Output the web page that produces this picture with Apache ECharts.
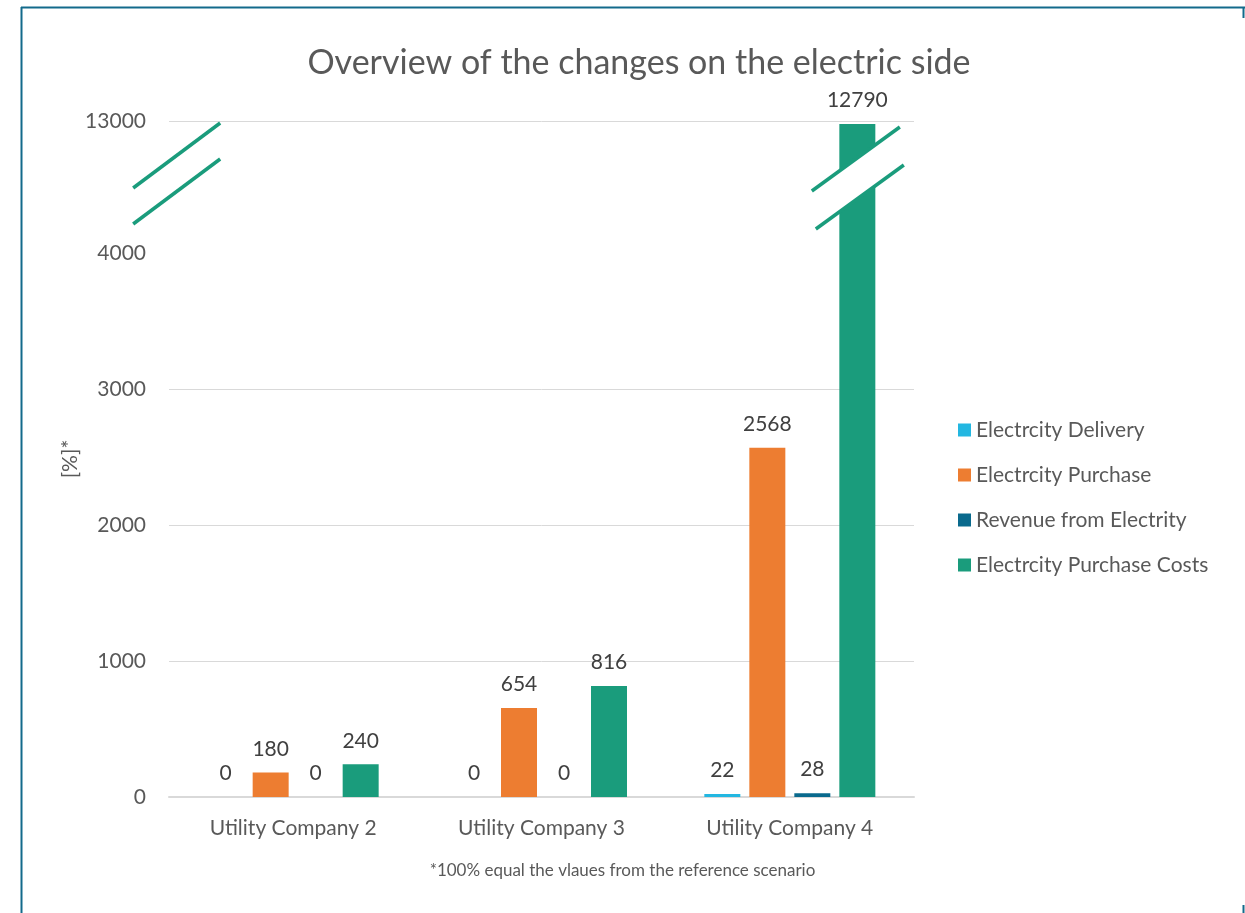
<!DOCTYPE html>
<html>
<head>
<meta charset="utf-8">
<script src="https://cdn.jsdelivr.net/npm/echarts@6/dist/echarts.min.js"></script>
<style>
  html, body { margin: 0; padding: 0; background: #fff; }
  #chart { width: 1245px; height: 913px; }
</style>
</head>
<body>
<div id="chart"></div>
<script>
// Categories and series values (% of the reference scenario)
const categories = ['Utility Company 2', 'Utility Company 3', 'Utility Company 4'];
const seriesNames = ['Electrcity Delivery', 'Electrcity Purchase', 'Revenue from Electrity', 'Electrcity Purchase Costs'];
const electricityDelivery = [0, 0, 22];
const electricityPurchase = [180, 654, 2568];
const revenueFromElectricity = [0, 0, 28];
const purchaseCosts = [240, 816, 12790];
const seriesColors = ['#23b7e1', '#ed7d31', '#0a6a8d', '#1a9c7c'];

// Broken value axis: 0..4000 linear, then a compressed jump to 13000
const axisBreakStart = 4000;
const axisBreakEnd = 13000;
const axisMax = 13000;

const FONT = 'Lato';
const TEXT = '#595959';
const GRID = { left: 169, right: 331, top: 121, bottom: 116 };

const chart = echarts.init(document.getElementById('chart'));

const values = [electricityDelivery, electricityPurchase, revenueFromElectricity, purchaseCosts];

const option = {
  backgroundColor: '#fff',
  animation: false,
  textStyle: { fontFamily: FONT },
  title: {
    text: 'Overview of the changes on the electric side',
    left: 634, top: 41, textAlign: 'center',
    textStyle: { fontFamily: FONT, fontSize: 34, fontWeight: 'normal', color: TEXT }
  },
  legend: {
    orient: 'vertical',
    left: 953, top: 413,
    itemWidth: 13, itemHeight: 13, itemGap: 21,
    icon: 'rect',
    textStyle: { fontFamily: FONT, fontSize: 21, color: TEXT, lineHeight: 24 },
    data: seriesNames
  },
  grid: GRID,
  xAxis: {
    type: 'category',
    data: categories,
    axisLine: { lineStyle: { color: '#d9d9d9', width: 2 } },
    axisTick: { show: false },
    axisLabel: { fontFamily: FONT, fontSize: 21, color: TEXT, margin: 21 }
  },
  yAxis: {
    type: 'value',
    min: 0, max: axisMax, interval: 1000,
    breaks: [{ start: axisBreakStart, end: axisBreakEnd, gap: 970 }],
    breakArea: { show: false },
    name: '[%]*',
    nameLocation: 'middle',
    nameGap: 88,
    nameMoveOverlap: false,
    nameRotate: 90,
    nameTextStyle: { fontFamily: FONT, fontSize: 21, color: TEXT },
    axisLine: { show: false },
    axisTick: { show: false },
    axisLabel: {
      fontFamily: FONT, fontSize: 21, color: TEXT, margin: 23,
      formatter: (v) => String(v)
    },
    splitLine: { lineStyle: { color: '#d9d9d9', width: 1 } }
  },
  series: seriesNames.map((name, i) => ({
    name,
    type: 'bar',
    data: values[i],
    barWidth: 36,
    barGap: '25%',
    itemStyle: { color: seriesColors[i] },
    label: {
      show: true, position: 'top', distance: 13,
      fontFamily: FONT, fontSize: 21, color: '#404040'
    }
  })),
  graphic: []
};

chart.setOption(option);

// Break marks: white band bounded by two green diagonals, on the value axis and across the tall bar
const markColor = '#1a9c7c';
function breakMark(x1, y1, x2, y2, dy, dx2) {
  return [
    {
      type: 'polygon', z: 100,
      shape: { points: [[x1, y1], [x2, y2], [x2 + dx2, y2 + dy], [x1 + dx2, y1 + dy]] },
      style: { fill: '#fff' }
    },
    {
      type: 'line', z: 101,
      shape: { x1, y1, x2, y2 },
      style: { stroke: markColor, lineWidth: 3.5 }
    },
    {
      type: 'line', z: 101,
      shape: { x1: x1 + dx2, y1: y1 + dy, x2: x2 + dx2, y2: y2 + dy },
      style: { stroke: markColor, lineWidth: 3.5 }
    }
  ];
}

const xLeft = chart.convertToPixel({ xAxisIndex: 0 }, categories[0]);
const xLast = chart.convertToPixel({ xAxisIndex: 0 }, categories[2]);
const graphics = [
  ...breakMark(xLeft - 160, 188, xLeft - 73, 123, 36, 0),
  ...breakMark(xLast + 22, 191, xLast + 110, 127, 38, 4),
  // Frame around the chart
  { type: 'line', shape: { x1: 21, y1: 7.5, x2: 1245, y2: 7.5 }, style: { stroke: '#136a8b', lineWidth: 2 } },
  { type: 'line', shape: { x1: 21.5, y1: 7, x2: 21.5, y2: 913 }, style: { stroke: '#136a8b', lineWidth: 2 } },
  { type: 'line', shape: { x1: 1243.5, y1: 7, x2: 1243.5, y2: 18 }, style: { stroke: '#136a8b', lineWidth: 2 } },
  { type: 'line', shape: { x1: 1243.5, y1: 905, x2: 1243.5, y2: 913 }, style: { stroke: '#136a8b', lineWidth: 2 } },
  // Footnote
  {
    type: 'text', left: 'center', top: 862,
    style: {
      text: '*100% equal the vlaues from the reference scenario',
      font: '17px ' + FONT, fill: TEXT
    }
  }
];
chart.setOption({ graphic: graphics });
</script>
</body>
</html>
